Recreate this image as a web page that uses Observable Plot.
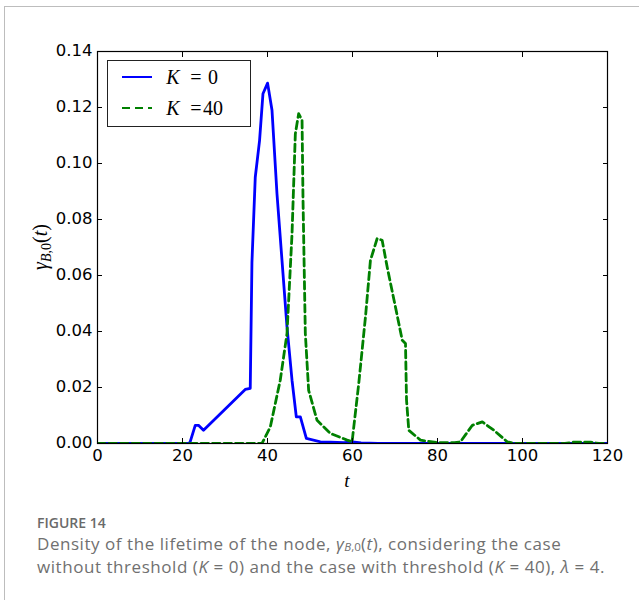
<!DOCTYPE html>
<html>
<head>
<meta charset="utf-8">
<script src="https://cdn.jsdelivr.net/npm/d3@7"></script>
<script src="https://cdn.jsdelivr.net/npm/@observablehq/plot@0.6"></script>
<style>
  body { margin: 0; background: #fff; }
  #page { position: relative; width: 639px; height: 600px; overflow: hidden; background: #fff; }
  #border { position: absolute; left: 4px; top: 6px; right: -10px; bottom: -10px; border-top: 1px solid #bdbdbd; border-left: 1px solid #bdbdbd; }
  #chart { position: absolute; left: 0; top: 0; }
  #cap { position: absolute; left: 37px; top: 514px; width: 602px; font-family: "Open Sans", sans-serif; color: #707070; white-space: nowrap; }
  #cap .fig { font-size: 14px; font-weight: 600; line-height: 18px; color: #6a6a6a; }
  #cap .txt { font-size: 17px; line-height: 22.6px; letter-spacing: 0.55px; margin-top: 1px; }
  #cap sub { font-size: 0.68em; line-height: 0; vertical-align: -0.12em; letter-spacing: 0; }
</style>
</head>
<body>
<div id="page">
  <div id="border"></div>
  <div id="chart"></div>
  <div id="cap">
    <div class="fig">FIGURE 14</div>
    <div class="txt">Density of the lifetime of the node, <i>γ</i><sub><i>B</i>,0</sub>(<i>t</i>), considering the case<br>without threshold (<i>K</i> = 0) and the case with threshold (<i>K</i> = 40), <i>λ</i> = 4.</div>
  </div>
</div>
<script>
// ---- data ----
const tK0 = [0, 21.5, 21.8, 23.0, 23.76, 24.94, 34.76, 35.94, 36.34, 37.12, 38.13, 38.93, 40.02, 41.06, 42.23, 43.41, 44.59, 45.77, 46.78, 47.73, 49.14, 52.44, 54.8, 58, 60, 62, 66, 120];
const vK0 = [0, 0, 0.0006, 0.0065, 0.0065, 0.0047, 0.0193, 0.0197, 0.0647, 0.0951, 0.1082, 0.1249, 0.1287, 0.119, 0.0892, 0.0654, 0.0416, 0.0226, 0.0095, 0.0095, 0.0018, 0.0006, 0.0005, 0.0003, 0.0006, 0.0002, 0, 0];

const tK40 = [0, 38.7, 40.66, 43.0, 44.59, 45.77, 46.55, 47.33, 48.13, 48.36, 48.9, 49.68, 51.66, 54.8, 58.73, 59.9, 61.47, 63.05, 64.22, 65.8, 66.98, 68.16, 70.1, 71.7, 72.47, 72.71, 73.25, 76.0, 79.9, 84, 85.4, 88.2, 90.55, 93.3, 96.4, 98, 110, 112, 116, 118, 120];
const vK40 = [0, 0, 0.0059, 0.0226, 0.0393, 0.0749, 0.1106, 0.1178, 0.1154, 0.0868, 0.0393, 0.019, 0.0083, 0.0036, 0.0012, 0.0006, 0.0214, 0.0452, 0.0654, 0.0732, 0.0726, 0.063, 0.0488, 0.0369, 0.0357, 0.0155, 0.0047, 0.0012, 0.0003, 0.0003, 0.0006, 0.0065, 0.0077, 0.0047, 0.0006, 0, 0, 0.0005, 0.0005, 0, 0];

const xTicks = [0, 20, 40, 60, 80, 100, 120];
const yTicks = [0, 0.02, 0.04, 0.06, 0.08, 0.10, 0.12, 0.14];
const seriesNames = ["K=0", "K=40"];
const seriesColors = ["#0000ff", "#008000"];

const k0 = tK0.map((t, i) => ({t, v: vK0[i]}));
const k40 = tK40.map((t, i) => ({t, v: vK40[i]}));

const fmtY = d3.format(".2f");

const chart = Plot.plot({
  width: 639,
  height: 490,
  marginLeft: 97,
  marginRight: 32,
  marginTop: 51,
  marginBottom: 47,
  style: { fontFamily: "DejaVu Sans, sans-serif", fontSize: "16.5px", color: "#000", background: "transparent" },
  x: { domain: [0, 120], ticks: xTicks },
  y: { domain: [0, 0.14], ticks: yTicks },
  marks: [
    Plot.line(k0, { x: "t", y: "v", stroke: seriesColors[0], strokeWidth: 2.8, clip: true }),
    Plot.line(k40, { x: "t", y: "v", stroke: seriesColors[1], strokeWidth: 2.8, strokeDasharray: "7.5,4", clip: true }),
    Plot.frame({ stroke: "#000", strokeWidth: 1.2 }),
    // labels
    Plot.axisX(xTicks, { anchor: "bottom", tickSize: 0, tickPadding: 6, label: null, tickFormat: d => String(d) }),
    Plot.axisY(yTicks, { anchor: "left", tickSize: 0, tickPadding: 5, label: null, tickFormat: fmtY, dy: -1 }),
    // inward ticks on all sides
    Plot.axisX(xTicks, { anchor: "bottom", tickSize: -5, tickFormat: () => "", label: null }),
    Plot.axisX(xTicks, { anchor: "top", tickSize: -5, tickFormat: () => "", label: null }),
    Plot.axisY(yTicks, { anchor: "left", tickSize: -5, tickFormat: () => "", label: null }),
    Plot.axisY(yTicks, { anchor: "right", tickSize: -5, tickFormat: () => "", label: null })
  ]
});
document.getElementById("chart").appendChild(chart);

const svg = d3.select(chart);

// x axis label
svg.append("text")
  .attr("x", 347).attr("y", 487)
  .attr("text-anchor", "middle")
  .style("font-family", "Liberation Serif, serif")
  .style("font-style", "italic")
  .style("font-size", "19px")
  .text("t");

// y axis label
const yl = svg.append("text")
  .attr("transform", "translate(47,247) rotate(-90)")
  .attr("text-anchor", "middle")
  .style("font-family", "Liberation Serif, serif")
  .style("font-size", "20px");
yl.append("tspan").style("font-style", "italic").text("γ");
yl.append("tspan").attr("dy", 4).style("font-size", "14px").style("font-style", "italic").text("B");
yl.append("tspan").style("font-size", "14px").text(",0");
yl.append("tspan").attr("dy", -4).text("(");
yl.append("tspan").style("font-style", "italic").text("t");
yl.append("tspan").text(")");

// legend
const lg = svg.append("g");
lg.append("rect").attr("x", 107.5).attr("y", 60.5).attr("width", 143).attr("height", 66)
  .attr("fill", "#fff").attr("stroke", "#222").attr("stroke-width", 1);
const rows = [
  { y: 77, color: seriesColors[0], dash: null, num: "0" },
  { y: 108, color: seriesColors[1], dash: "8,5", num: "40" }
];
rows.forEach(r => {
  lg.append("line").attr("x1", 122).attr("x2", 152).attr("y1", r.y).attr("y2", r.y)
    .attr("stroke", r.color).attr("stroke-width", 2)
    .attr("stroke-dasharray", r.dash);
  const t = lg.append("text").attr("y", r.y + 6.5)
    .style("font-family", "Liberation Serif, serif").style("font-size", "20px");
  t.append("tspan").attr("x", 173).style("font-style", "italic").text("K");
  t.append("tspan").attr("x", 196).text("=");
  t.append("tspan").attr("x", 213).text(r.num);
});
</script>
</body>
</html>
